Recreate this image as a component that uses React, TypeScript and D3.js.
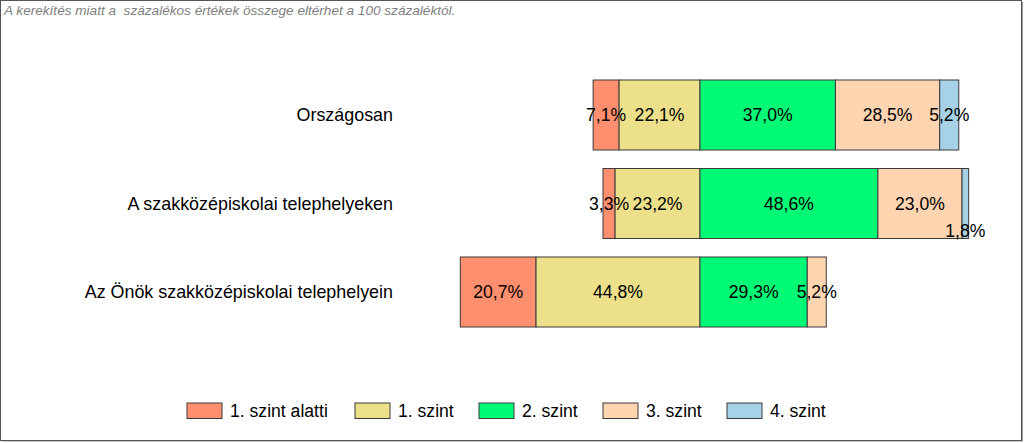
import React, { useEffect, useRef } from "react";
import * as d3 from "d3";

const levels = ["1. szint alatti", "1. szint", "2. szint", "3. szint", "4. szint"];
const categories = [
  "Országosan",
  "A szakközépiskolai telephelyeken",
  "Az Önök szakközépiskolai telephelyein",
];
const orszagosan = [7.1, 22.1, 37.0, 28.5, 5.2];
const szakkozep = [3.3, 23.2, 48.6, 23.0, 1.8];
const onok = [20.7, 44.8, 29.3, 5.2, 0];
const seriesValues = [orszagosan, szakkozep, onok];
const colors = ["#FF8F6E", "#EDE08A", "#00FA76", "#FFD4B0", "#A6D1E6"];
const note = "A kerekítés miatt a  százalékos értékek összege eltérhet a 100 százaléktól.";

const App = () => {
  const svgRef = useRef<SVGSVGElement>(null);

  useEffect(() => {
    const width = 1024;
    const height = 443;
    const font = "'Liberation Sans', Arial, sans-serif";
    const fs = 17.6;

    const svg = d3.select(svgRef.current);
    svg.selectAll("*").remove();

    // keret
    svg.append("rect")
      .attr("x", 0.5).attr("y", 0.5)
      .attr("width", 1021).attr("height", 440)
      .attr("fill", "#fff").attr("stroke", "#555");
    svg.append("line")
      .attr("x1", 1022.5).attr("x2", 1022.5).attr("y1", 2).attr("y2", 442)
      .attr("stroke", "#999");
    svg.append("line")
      .attr("x1", 2).attr("x2", 1023).attr("y1", 441.5).attr("y2", 441.5)
      .attr("stroke", "#ccc");

    svg.append("text")
      .attr("x", 4).attr("y", 15)
      .attr("font-family", font).attr("font-size", 13.6)
      .attr("font-style", "italic").attr("fill", "#808080")
      .style("white-space", "pre")
      .text(note);

    const x = d3.scaleLinear().domain([-100, 100]).range([700 - 366, 700 + 366]);
    const y = d3.scaleBand<string>()
      .domain(categories)
      .range([70.75, 336.25])
      .paddingInner(0.209)
      .paddingOuter(0.1045);

    // 1. szint alatti + 1. szint balra, a többi jobbra
    categories.forEach((cat, ci) => {
      const vals = seriesValues[ci];
      let start = -(vals[0] + vals[1]);
      const g = svg.append("g");
      const y0 = y(cat)!;
      const bh = y.bandwidth();
      const segs = vals.map((v, i) => {
        const s = { v, i, x0: start, x1: start + v };
        start += v;
        return s;
      }).filter((s) => s.v > 0);

      g.selectAll("rect")
        .data(segs)
        .join("rect")
        .attr("x", (d) => x(d.x0))
        .attr("y", y0)
        .attr("width", (d) => x(d.x1) - x(d.x0))
        .attr("height", bh)
        .attr("fill", (d) => colors[d.i])
        .attr("stroke", "#3a3a3a")
        .attr("stroke-width", 1);

      g.selectAll("text.val")
        .data(segs)
        .join("text")
        .attr("class", "val")
        .attr("x", (d) => x((d.x0 + d.x1) / 2))
        .attr("y", (d) => y0 + bh / 2 + (d.v < 2 ? 27 : 0))
        .attr("dy", "0.35em")
        .attr("text-anchor", "middle")
        .attr("font-family", font)
        .attr("font-size", fs)
        .attr("fill", "#000")
        .text((d) => d3.format(".1f")(d.v).replace(".", ",") + "%");

      svg.append("text")
        .attr("x", 393)
        .attr("y", y0 + bh / 2)
        .attr("dy", "0.35em")
        .attr("text-anchor", "end")
        .attr("font-family", font)
        .attr("font-size", fs + 0.3)
        .attr("fill", "#000")
        .text(cat);
    });

    // jelmagyarázat
    const legendX = [187, 355, 479, 603, 727];
    const legend = svg.append("g")
      .selectAll("g")
      .data(levels)
      .join("g")
      .attr("transform", (d, i) => `translate(${legendX[i]},403)`);
    legend.append("rect")
      .attr("width", 35).attr("height", 15.5)
      .attr("fill", (d, i) => colors[i])
      .attr("stroke", "#3a3a3a");
    legend.append("text")
      .attr("x", 43).attr("y", 8).attr("dy", "0.35em")
      .attr("font-family", font).attr("font-size", fs)
      .text((d) => d);

    svg.attr("width", width).attr("height", height);
  }, []);

  return (
    <svg
      ref={svgRef}
      width={1024}
      height={443}
      style={{ position: "absolute", left: 0, top: 0, display: "block" }}
    />
  );
};

export default App;
